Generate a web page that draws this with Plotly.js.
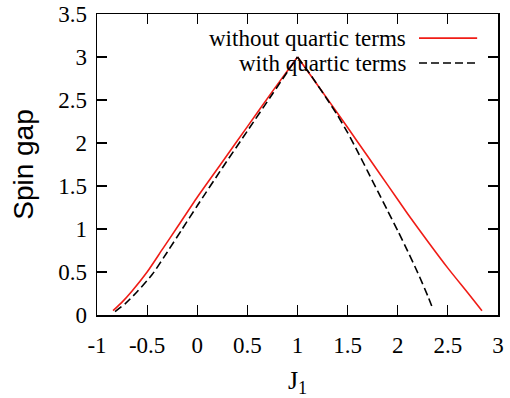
<!DOCTYPE html>
<html>
<head>
<meta charset="utf-8">
<script src="https://cdn.plot.ly/plotly-3.0.1.min.js"></script>
<style>html,body{margin:0;padding:0;background:#fff;}#chart{width:510px;height:398px;}</style>
</head>
<body>
<div id="chart"></div>
<script>
// J1 values and spin gap (each curve split at its cusp J1 = 1)
const redLeftX = [-0.84, -0.75, -0.65, -0.5, -0.35, -0.2, 0, 0.25, 0.5, 0.75, 1.0];
const redLeftY = [0.05, 0.15, 0.28, 0.50, 0.76, 1.02, 1.37, 1.78, 2.19, 2.60, 3.0];
const redRightX = [1.0, 1.15, 1.3, 1.5, 1.7, 1.9, 2.1, 2.3, 2.5, 2.7, 2.84];
const redRightY = [3.0, 2.755, 2.51, 2.18, 1.845, 1.51, 1.175, 0.855, 0.545, 0.255, 0.05];
const blackLeftX = [-0.82, -0.72, -0.6, -0.45, -0.3, -0.15, 0, 0.25, 0.5, 0.75, 1.0];
const blackLeftY = [0.04, 0.13, 0.27, 0.47, 0.73, 1.0, 1.27, 1.71, 2.14, 2.57, 3.0];
const blackRightX = [1.0, 1.15, 1.3, 1.4, 1.5, 1.6, 1.7, 1.8, 1.9, 2.0, 2.1, 2.2, 2.3, 2.35];
const blackRightY = [3.0, 2.76, 2.5, 2.32, 2.12, 1.90, 1.67, 1.44, 1.21, 0.98, 0.74, 0.49, 0.22, 0.07];
const seriesNames = ["without quartic terms", "with quartic terms"];
const xTicks = [-1, -0.5, 0, 0.5, 1, 1.5, 2, 2.5, 3];
const xTickText = ["-1", "-0.5", "0", "0.5", "1", "1.5", "2", "2.5", "3"];
const yTicks = [0, 0.5, 1, 1.5, 2, 2.5, 3, 3.5];
const yTickText = ["0", "0.5", "1", "1.5", "2", "2.5", "3", "3.5"];

const RED = "#f01c16";
const serif = "Liberation Serif, serif";
const redLine = {color: RED, width: 1.6, shape: "spline", smoothing: 0.6};
const blackLine = {color: "#000", width: 1.6, dash: "8px,4px", shape: "spline", smoothing: 0.6};

const traces = [
  {x: redLeftX, y: redLeftY, mode: "lines", name: seriesNames[0], line: redLine},
  {x: redRightX, y: redRightY, mode: "lines", name: seriesNames[0], line: redLine},
  {x: blackLeftX, y: blackLeftY, mode: "lines", name: seriesNames[1], line: blackLine},
  {x: blackRightX, y: blackRightY, mode: "lines", name: seriesNames[1], line: blackLine}
];

const layout = {
  width: 510, height: 398,
  margin: {l: 97, r: 12, t: 14, b: 83},
  paper_bgcolor: "#fff", plot_bgcolor: "#fff",
  showlegend: false,
  font: {family: serif, size: 22, color: "#000"},
  xaxis: {
    range: [-1, 3], tickvals: xTicks, ticktext: xTickText,
    ticks: "inside", ticklen: 10, tickwidth: 1.2, tickcolor: "#000",
    showline: true, linecolor: "#000", linewidth: 1.5, mirror: "allticks",
    showgrid: false, zeroline: false, ticklabelstandoff: 9,
    tickfont: {family: serif, size: 23},
    title: {text: "J<sub>1</sub>", font: {family: serif, size: 26}, standoff: 14}
  },
  yaxis: {
    range: [0, 3.5], tickvals: yTicks, ticktext: yTickText,
    ticks: "inside", ticklen: 10, tickwidth: 1.2, tickcolor: "#000",
    showline: true, linecolor: "#000", linewidth: 1.5, mirror: "allticks",
    showgrid: false, zeroline: false, ticklabelstandoff: 4,
    tickfont: {family: serif, size: 23},
    title: {text: "Spin gap", font: {family: "Liberation Sans, Arial, sans-serif", size: 28}, standoff: 16}
  },
  annotations: [
    {xref: "paper", yref: "paper", x: 0.776, y: 0.920, xanchor: "right", yanchor: "middle", showarrow: false,
     text: seriesNames[0], font: {family: serif, size: 23, color: "#000"}},
    {xref: "paper", yref: "paper", x: 0.776, y: 0.837, xanchor: "right", yanchor: "middle", showarrow: false,
     text: seriesNames[1], font: {family: serif, size: 23, color: "#000"}}
  ],
  shapes: [
    {type: "line", xref: "paper", yref: "paper", x0: 0.803, x1: 0.948, y0: 0.920, y1: 0.920, line: {color: RED, width: 1.6}},
    {type: "line", xref: "paper", yref: "paper", x0: 0.803, x1: 0.948, y0: 0.837, y1: 0.837, line: {color: "#000", width: 1.6, dash: "8px,4px"}}
  ]
};

Plotly.newPlot("chart", traces, layout, {displayModeBar: false, staticPlot: true});
</script>
</body>
</html>
